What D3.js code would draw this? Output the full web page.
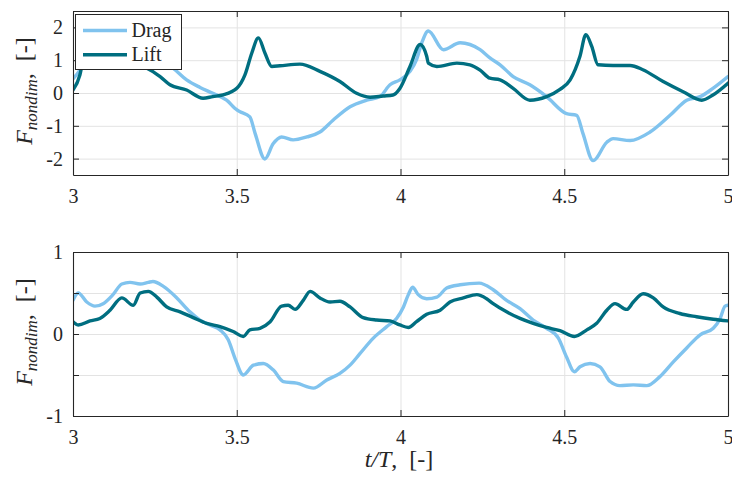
<!DOCTYPE html>
<html><head><meta charset="utf-8">
<script src="https://cdn.jsdelivr.net/npm/d3@7/dist/d3.min.js"></script>
<style>
body{margin:0;background:#fff}
text{font-family:"Liberation Serif","Times New Roman",serif;fill:#262626}
</style>
</head><body>
<svg id="c" width="732" height="479"></svg>
<script>
// ---------- data ----------
const xTicks = [3, 3.5, 4, 4.5, 5];
const xTickLabels = ["3", "3.5", "4", "4.5", "5"];
const yTicksTop = [-2, -1, 0, 1, 2];
const yTickLabelsTop = ["-2", "-1", "0", "1", "2"];
const yTicksBot = [-1, -0.5, 0, 0.5, 1];
const yTickLabelsBot = ["-1", "", "0", "", "1"];
const seriesNames = ["Drag", "Lift"];

// top panel
const tDragTop = [3.000,3.021,3.040,3.060,3.080,3.100,3.130,3.170,3.210,3.250,3.280,3.305,3.347,3.388,3.427,3.469,3.501,3.510,3.540,3.556,3.586,3.611,3.637,3.672,3.714,3.754,3.794,3.846,3.897,3.937,3.968,3.998,4.029,4.049,4.065,4.085,4.131,4.182,4.243,4.273,4.304,4.344,4.395,4.446,4.507,4.538,4.557,4.588,4.630,4.649,4.701,4.762,4.823,4.874,4.915,4.954,5.000];
const dragTop  = [0.43,0.70,1.05,1.45,1.75,1.55,1.35,1.40,1.25,1.05,0.90,0.76,0.40,0.17,-0.01,-0.22,-0.52,-0.57,-0.73,-1.23,-2.01,-1.55,-1.34,-1.43,-1.34,-1.19,-0.83,-0.42,-0.22,-0.11,0.25,0.40,0.66,1.02,1.53,1.89,1.32,1.53,1.32,1.07,0.86,0.50,0.25,-0.11,-0.63,-0.68,-1.23,-2.06,-1.50,-1.39,-1.45,-1.19,-0.68,-0.22,-0.11,0.14,0.50];
const tLiftTop = [3.000,3.021,3.031,3.050,3.070,3.090,3.120,3.170,3.200,3.224,3.266,3.296,3.347,3.397,3.427,3.458,3.501,3.525,3.546,3.566,3.586,3.607,3.632,3.693,3.754,3.815,3.866,3.907,3.947,3.977,3.998,4.029,4.060,4.080,4.085,4.111,4.172,4.212,4.243,4.273,4.304,4.344,4.395,4.446,4.487,4.518,4.548,4.566,4.584,4.603,4.649,4.701,4.740,4.802,4.863,4.920,4.954,5.000];
const liftTop  = [0.09,0.55,1.00,1.30,1.45,1.05,0.85,0.90,0.85,0.76,0.50,0.25,0.09,-0.16,-0.11,-0.06,0.15,0.55,1.22,1.68,1.22,0.81,0.83,0.88,0.66,0.35,-0.01,-0.13,-0.09,-0.06,0.14,0.81,1.48,1.12,0.91,0.81,0.91,0.86,0.70,0.45,0.40,0.14,-0.22,-0.11,0.11,0.40,1.12,1.78,1.42,0.86,0.84,0.84,0.71,0.35,0.04,-0.22,-0.06,0.30];

// bottom panel
const tDragBot = [3.000,3.016,3.042,3.067,3.092,3.122,3.149,3.174,3.205,3.230,3.244,3.276,3.317,3.357,3.388,3.418,3.449,3.474,3.495,3.520,3.551,3.581,3.612,3.642,3.683,3.734,3.775,3.815,3.846,3.876,3.917,3.958,3.988,4.009,4.024,4.037,4.054,4.080,4.111,4.141,4.182,4.240,4.283,4.324,4.365,4.405,4.446,4.482,4.507,4.531,4.548,4.579,4.609,4.640,4.670,4.711,4.752,4.792,4.833,4.874,4.915,4.955,4.976,4.991,5.000];
const dragBot  = [0.41,0.50,0.39,0.34,0.37,0.48,0.61,0.63,0.61,0.63,0.64,0.58,0.44,0.27,0.17,0.11,0.05,-0.07,-0.30,-0.50,-0.38,-0.36,-0.44,-0.58,-0.60,-0.66,-0.56,-0.48,-0.38,-0.24,-0.05,0.09,0.19,0.33,0.48,0.57,0.48,0.43,0.45,0.56,0.60,0.62,0.54,0.41,0.31,0.17,0.07,-0.05,-0.28,-0.46,-0.40,-0.36,-0.40,-0.58,-0.63,-0.62,-0.63,-0.52,-0.34,-0.17,-0.01,0.07,0.19,0.34,0.35];
const tLiftBot = [3.000,3.016,3.052,3.082,3.113,3.149,3.184,3.205,3.230,3.256,3.286,3.327,3.367,3.408,3.449,3.489,3.520,3.540,3.571,3.602,3.637,3.657,3.678,3.703,3.724,3.754,3.785,3.815,3.846,3.886,3.927,3.968,3.998,4.024,4.049,4.080,4.121,4.151,4.192,4.233,4.263,4.283,4.324,4.365,4.405,4.446,4.487,4.531,4.569,4.599,4.630,4.655,4.691,4.711,4.741,4.772,4.802,4.853,4.904,4.955,5.000];
const liftBot  = [0.15,0.11,0.16,0.19,0.29,0.44,0.35,0.50,0.52,0.45,0.33,0.27,0.20,0.13,0.09,0.03,-0.03,0.05,0.07,0.15,0.34,0.35,0.30,0.41,0.52,0.44,0.39,0.40,0.33,0.20,0.17,0.16,0.11,0.08,0.15,0.24,0.29,0.39,0.44,0.48,0.43,0.37,0.27,0.19,0.13,0.08,0.04,-0.03,0.05,0.13,0.29,0.37,0.30,0.39,0.49,0.44,0.33,0.25,0.21,0.18,0.16];

// ---------- drawing ----------
const colDrag = "#80c3ee", colLift = "#006e80";
const axisCol = "#262626", gridCol = "#e3e3e3";
const serif = "'Liberation Serif','Times New Roman',serif";
const svg = d3.select("#c");
svg.append("rect").attr("width",732).attr("height",479).attr("fill","#fff");

const x = d3.scaleLinear().domain([3,5]).range([73,728]);

function panel(id, yDomain, yRange, yTicks, yLabels, series){
  const y = d3.scaleLinear().domain(yDomain).range(yRange);
  const g = svg.append("g");
  const top = yRange[1], bot = yRange[0];
  // grid
  g.append("g").attr("transform",`translate(0,${bot})`)
    .call(d3.axisBottom(x).tickValues(xTicks).tickSize(-(bot-top)).tickFormat(""))
    .call(s=>{s.select(".domain").remove(); s.selectAll("line").attr("stroke",gridCol);});
  g.append("g").attr("transform",`translate(${x.range()[0]},0)`)
    .call(d3.axisLeft(y).tickValues(yTicks).tickSize(-(x.range()[1]-x.range()[0])).tickFormat(""))
    .call(s=>{s.select(".domain").remove(); s.selectAll("line").attr("stroke",gridCol);});
  // clip
  svg.append("clipPath").attr("id","clip"+id).append("rect")
    .attr("x",x.range()[0]).attr("y",top).attr("width",x.range()[1]-x.range()[0]).attr("height",bot-top);
  const line = d3.line().x(d=>x(d[0])).y(d=>y(d[1])).curve(d3.curveMonotoneX);
  series.forEach(s=>{
    g.append("path").attr("clip-path",`url(#clip${id})`)
      .datum(s.t.map((t,i)=>[t,s.v[i]]))
      .attr("d",line).attr("fill","none").attr("stroke",s.color)
      .attr("stroke-width",3.4).attr("stroke-linejoin","round").attr("stroke-linecap","round");
  });
  // axes with inward ticks
  const styleAx = s=>{s.attr("font-family",null);
    s.select(".domain").attr("stroke",axisCol).attr("stroke-width",1.1);
    s.selectAll(".tick line").attr("stroke",axisCol);
    s.selectAll("text").attr("fill",axisCol).style("font-size","20px").style("font-family",serif);};
  g.append("g").attr("transform",`translate(0,${bot})`)
    .call(d3.axisBottom(x).tickValues(xTicks).tickSizeInner(-6).tickSizeOuter(0).tickPadding(14)
      .tickFormat((d,i)=>xTickLabels[i])).call(styleAx);
  g.append("g").attr("transform",`translate(0,${top})`)
    .call(d3.axisTop(x).tickValues(xTicks).tickSizeInner(-6).tickSizeOuter(0).tickFormat("")).call(styleAx);
  g.append("g").attr("transform",`translate(${x.range()[0]},0)`)
    .call(d3.axisLeft(y).tickValues(yTicks).tickSizeInner(-6).tickSizeOuter(0).tickPadding(10)
      .tickFormat((d,i)=>yLabels[i])).call(styleAx);
  g.append("g").attr("transform",`translate(${x.range()[1]},0)`)
    .call(d3.axisRight(y).tickValues(yTicks).tickSizeInner(-6).tickSizeOuter(0).tickFormat("")).call(styleAx);
  // y title
  const cy = (top+bot)/2 - 2;
  const yt = g.append("text").attr("transform",`translate(32,${cy}) rotate(-90)`)
    .attr("text-anchor","middle").style("font-size","24px").style("font-family",serif);
  yt.append("tspan").attr("font-style","italic").text("F");
  yt.append("tspan").attr("font-style","italic").style("font-size","17px").attr("dy",5).text("nondim");
  yt.append("tspan").attr("dy",-5).text(",\u2002[-]");
  return {g,y};
}

panel("t",[-2.5,2.5],[175,11],yTicksTop,yTickLabelsTop,[
  {t:tDragTop,v:dragTop,color:colDrag},
  {t:tLiftTop,v:liftTop,color:colLift}]);
panel("b",[-1,1],[416,252],yTicksBot,yTickLabelsBot,[
  {t:tDragBot,v:dragBot,color:colDrag},
  {t:tLiftBot,v:liftBot,color:colLift}]);

// x title
const xt = svg.append("text").attr("x",399).attr("y",467).attr("text-anchor","middle")
  .style("font-size","24px").style("font-family",serif);
xt.append("tspan").attr("font-style","italic").text("t/T");
xt.append("tspan").text(",\u2002[-]");

// legend
const lg = svg.append("g");
lg.append("rect").attr("x",75.5).attr("y",14.5).attr("width",106).attr("height",55)
  .attr("fill","#fff").attr("stroke",axisCol).attr("stroke-width",1);
[colDrag,colLift].forEach((c,i)=>{
  const yy = 30.5 + i*24.2;
  lg.append("line").attr("x1",83).attr("x2",127).attr("y1",yy).attr("y2",yy)
    .attr("stroke",c).attr("stroke-width",3.4);
  lg.append("text").attr("x",131.5).attr("y",yy).attr("dy","0.33em")
    .style("font-size","20px").style("font-family",serif).text(seriesNames[i]);
});
</script>
</body></html>
